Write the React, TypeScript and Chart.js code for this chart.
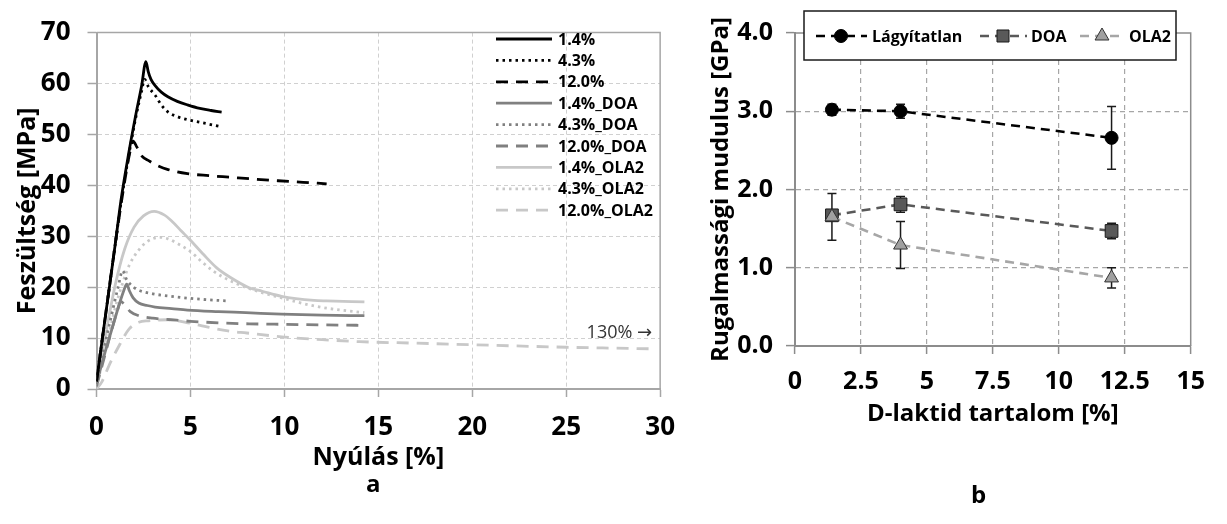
import React, { useEffect, useRef } from 'react';
import { Chart, registerables } from 'chart.js';

Chart.register(...registerables);

const FONT = '"Open Sans", "DejaVu Sans", sans-serif';

// ---------------- Panel a: stress–strain curves ([strain %, stress MPa]) ----------------
const curve_1_4 = [[0, 1.5], [0.5, 15], [1.0, 28.5], [1.3, 37], [1.7, 46], [2.1, 54], [2.4, 59.5], [2.63, 64.3], [2.75, 62.4], [2.9, 60.8], [3.12, 59.6], [3.45, 58.3], [3.8, 57.4], [4.3, 56.5], [4.84, 55.8], [5.5, 55.1], [6.1, 54.7], [6.66, 54.4]];
const curve_4_3 = [[0, 1.5], [0.5, 15], [1.0, 28.5], [1.3, 36.5], [1.7, 45.5], [2.1, 53.5], [2.4, 58.5], [2.56, 60.8], [2.77, 59.3], [3.12, 57.7], [3.45, 55.8], [3.81, 54.4], [4.3, 53.5], [4.84, 52.9], [5.88, 52.1], [6.66, 51.5]];
const curve_12_0 = [[0, 1.5], [0.5, 15], [1.0, 28.5], [1.4, 38.5], [1.75, 46], [1.95, 48.7], [2.15, 47.5], [2.43, 45.7], [2.8, 44.8], [3.12, 44.1], [3.81, 43.1], [4.84, 42.3], [6.0, 41.9], [7.07, 41.6], [8.5, 41.2], [9.67, 40.9], [11.0, 40.6], [12.25, 40.3]];
const curve_1_4_DOA = [[0, 1], [0.4, 6.5], [0.8, 11.5], [1.2, 16.5], [1.45, 19.3], [1.61, 20.6], [1.75, 19.3], [1.95, 17.9], [2.25, 16.9], [2.7, 16.4], [3.12, 16.1], [4.0, 15.8], [4.84, 15.5], [6.5, 15.2], [7.95, 15.0], [9.85, 14.7], [12.0, 14.5], [14.26, 14.4]];
const curve_4_3_DOA = [[0, 1], [0.4, 8], [0.8, 14.5], [1.15, 20], [1.39, 23.2], [1.6, 21.5], [1.9, 20.2], [2.25, 19.4], [3.0, 18.7], [3.98, 18.2], [5.0, 17.8], [6.0, 17.5], [7.0, 17.3]];
const curve_12_0_DOA = [[0, 0.5], [0.4, 6], [0.8, 11.5], [1.1, 15.3], [1.3, 17.2], [1.5, 16.5], [1.8, 15.2], [2.25, 14.4], [3.0, 13.9], [3.98, 13.6], [5.0, 13.3], [6.5, 13.0], [8.12, 12.8], [10.0, 12.7], [12.0, 12.6], [14.26, 12.5]];
const curve_1_4_OLA2 = [[0, 1], [0.5, 11], [1.0, 20.5], [1.5, 27.5], [2.0, 31.8], [2.5, 34], [3.07, 34.9], [3.6, 34.2], [4.0, 33], [4.5, 31.1], [5.0, 29.2], [5.7, 26.4], [6.4, 23.8], [7.09, 22], [8.12, 19.9], [8.82, 19.2], [9.85, 18.2], [11.58, 17.4], [12.25, 17.3], [14.26, 17.1]];
const curve_4_3_OLA2 = [[0, 0.5], [0.5, 8], [1.0, 16], [1.5, 22], [1.74, 24.3], [2.25, 27.3], [2.68, 28.9], [3.38, 29.8], [3.8, 29.5], [4.3, 28.6], [5.0, 27], [5.6, 25], [6.2, 23.2], [7.26, 21], [8.64, 19.1], [9.85, 17.9], [11.58, 16.3], [13.0, 15.5], [14.26, 15.0]];
const curve_12_0_OLA2 = [[0, 0], [0.3, 1.5], [0.7, 4.9], [1.13, 8], [1.74, 11.8], [2.25, 13.1], [2.77, 13.4], [3.8, 13.6], [5.0, 12.9], [6.0, 12.1], [7.0, 11.4], [8.0, 11.0], [10.0, 10.2], [12.0, 9.7], [14.0, 9.3], [17.0, 9.0], [20.0, 8.7], [25.0, 8.2], [29.4, 7.9]];

const leftNames = ['1.4%', '4.3%', '12.0%', '1.4%_DOA', '4.3%_DOA', '12.0%_DOA', '1.4%_OLA2', '4.3%_OLA2', '12.0%_OLA2'];
const leftCurves = [curve_1_4, curve_4_3, curve_12_0, curve_1_4_DOA, curve_4_3_DOA, curve_12_0_DOA, curve_1_4_OLA2, curve_4_3_OLA2, curve_12_0_OLA2];

// styles (kept apart from data)
const BLACK = '#000000';
const MID = '#808080';
const LIGHT = '#c8c8c8';
const SOLID: number[] = [];
const DOT = [2.5, 4];
const DASH = [12, 8];
const leftStyles = [
  { color: BLACK, dash: SOLID },
  { color: BLACK, dash: DOT },
  { color: BLACK, dash: DASH },
  { color: MID, dash: SOLID },
  { color: MID, dash: DOT },
  { color: MID, dash: DASH },
  { color: LIGHT, dash: SOLID },
  { color: LIGHT, dash: DOT },
  { color: LIGHT, dash: DASH },
];

// ---------------- Panel b: modulus vs D-lactide content ----------------
const dContent = [1.4, 4.0, 12.0];
const rightNames = ['Lágyítatlan', 'DOA', 'OLA2'];
const modulusUnplasticized = [3.02, 3.0, 2.66];
const modulusDOA = [1.67, 1.81, 1.47];
const modulusOLA2 = [1.65, 1.29, 0.87];
const errUnplasticized = [0.07, 0.09, 0.4];
const errDOA = [0.05, 0.1, 0.1];
const errOLA2 = [0.3, 0.3, 0.13];
const rightValues = [modulusUnplasticized, modulusDOA, modulusOLA2];
const rightErrors = [errUnplasticized, errDOA, errOLA2];

const rightStyles = [
  { line: '#000000', fill: '#000000', border: '#000000', point: 'circle', radius: 6.5 },
  { line: '#595959', fill: '#595959', border: '#1a1a1a', point: 'rect', radius: 9 },
  { line: '#a6a6a6', fill: '#a0a0a0', border: '#333333', point: 'triangle', radius: 8 },
];

const tickFont = (size: number) => ({ family: FONT, size, weight: 'bold' as const });

function gridColor(edges: number[], color: string) {
  return (c: any) => (c.tick && edges.includes(c.tick.value) ? 'rgba(0,0,0,0)' : color);
}

const frame = (color: string) => ({
  id: 'frame',
  beforeDatasetsDraw(chart: any) {
    const { ctx, chartArea: a } = chart;
    ctx.save();
    ctx.strokeStyle = color;
    ctx.lineWidth = 1.5;
    ctx.setLineDash([]);
    ctx.beginPath();
    ctx.moveTo(a.left, a.top);
    ctx.lineTo(a.right, a.top);
    ctx.lineTo(a.right, a.bottom);
    ctx.stroke();
    ctx.restore();
  },
});

const leftLegend = {
  id: 'leftLegend',
  afterDraw(chart: any) {
    const { ctx, scales } = chart;
    ctx.save();
    leftNames.forEach((name, i) => {
      const st = leftStyles[i];
      const y = 39 + i * 21.4;
      ctx.strokeStyle = st.color;
      ctx.lineWidth = 2.8;
      ctx.setLineDash(st.dash);
      ctx.beginPath();
      ctx.moveTo(496, y);
      ctx.lineTo(552, y);
      ctx.stroke();
      ctx.setLineDash([]);
      ctx.fillStyle = '#000';
      ctx.font = `bold 16px ${FONT}`;
      ctx.textAlign = 'left';
      ctx.textBaseline = 'middle';
      ctx.fillText(name, 558, y + 1);
    });
    ctx.font = `18px ${FONT}`;
    ctx.fillStyle = '#333';
    ctx.textAlign = 'right';
    ctx.fillText('130% →', chart.chartArea.right - 8, scales.y.getPixelForValue(11.0));
    ctx.restore();
  },
};

const errorBars = {
  id: 'errorBars',
  beforeDatasetsDraw(chart: any) {
    const { ctx, scales } = chart;
    const { x, y } = scales;
    ctx.save();
    ctx.strokeStyle = '#1a1a1a';
    ctx.lineWidth = 1.5;
    ctx.setLineDash([]);
    rightErrors.forEach((errs, d) => {
      errs.forEach((e, i) => {
        const px = x.getPixelForValue(dContent[i]);
        const v = rightValues[d][i];
        const y1 = y.getPixelForValue(v + e);
        const y2 = y.getPixelForValue(v - e);
        ctx.beginPath();
        ctx.moveTo(px, y1);
        ctx.lineTo(px, y2);
        ctx.moveTo(px - 4.5, y1);
        ctx.lineTo(px + 4.5, y1);
        ctx.moveTo(px - 4.5, y2);
        ctx.lineTo(px + 4.5, y2);
        ctx.stroke();
      });
    });
    ctx.restore();
  },
};

function drawMarker(ctx: CanvasRenderingContext2D, kind: string, x: number, y: number, r: number) {
  ctx.beginPath();
  if (kind === 'circle') {
    ctx.arc(x, y, r, 0, Math.PI * 2);
  } else if (kind === 'rect') {
    const s = r * Math.SQRT1_2;
    ctx.rect(x - s, y - s, 2 * s, 2 * s);
  } else {
    ctx.moveTo(x, y - r);
    ctx.lineTo(x + r * Math.sin((2 * Math.PI) / 3), y - r * Math.cos((2 * Math.PI) / 3));
    ctx.lineTo(x + r * Math.sin((4 * Math.PI) / 3), y - r * Math.cos((4 * Math.PI) / 3));
    ctx.closePath();
  }
  ctx.fill();
  ctx.stroke();
}

const rightLegend = {
  id: 'rightLegend',
  afterDraw(chart: any) {
    const ctx = chart.ctx as CanvasRenderingContext2D;
    ctx.save();
    ctx.fillStyle = '#ffffff';
    ctx.fillRect(114, 11, 372, 49);
    ctx.strokeStyle = '#1a1a1a';
    ctx.lineWidth = 1.5;
    ctx.setLineDash([]);
    ctx.strokeRect(114, 11, 372, 49);
    const cy = 36;
    const items = [
      { x0: 126, x1: 177, mx: 151, tx: 182 },
      { x0: 290, x1: 337, mx: 313, tx: 341 },
      { x0: 390, x1: 433, mx: 412, tx: 439 },
    ];
    items.forEach((it, i) => {
      const st = rightStyles[i];
      ctx.strokeStyle = st.line;
      ctx.lineWidth = 2.6;
      ctx.setLineDash([9, 6]);
      ctx.beginPath();
      ctx.moveTo(it.x0, cy);
      ctx.lineTo(it.x1, cy);
      ctx.stroke();
      ctx.setLineDash([]);
      ctx.fillStyle = st.fill;
      ctx.strokeStyle = st.border;
      ctx.lineWidth = 1;
      drawMarker(ctx, st.point, it.mx, cy, i === 0 ? 6.5 : i === 1 ? 8.5 : 8);
      ctx.fillStyle = '#000';
      ctx.font = `bold 16px ${FONT}`;
      ctx.textAlign = 'left';
      ctx.textBaseline = 'middle';
      ctx.fillText(rightNames[i], it.tx, cy + 1);
    });
    ctx.restore();
  },
};

function LeftChart() {
  const ref = useRef<HTMLCanvasElement>(null);
  useEffect(() => {
    const chart = new Chart(ref.current!, {
      type: 'line',
      data: {
        datasets: leftCurves.map((c, i) => ({
          label: leftNames[i],
          data: c.map(([x, y]) => ({ x, y })),
          borderColor: leftStyles[i].color,
          borderDash: leftStyles[i].dash,
          borderWidth: 2.8,
          pointRadius: 0,
          fill: false,
          cubicInterpolationMode: 'monotone' as const,
        })),
      },
      options: {
        responsive: false,
        animation: false,
        events: [],
        layout: { padding: { top: 20, right: 14.5, bottom: 0, left: 0 } },
        plugins: { legend: { display: false }, tooltip: { enabled: false } },
        scales: {
          x: {
            type: 'linear',
            min: 0,
            max: 30,
            ticks: { stepSize: 5, font: tickFont(26), color: '#000', padding: 15, maxRotation: 0, autoSkip: false },
            grid: { color: gridColor([0, 30], '#d0d0d0'), lineWidth: 1, tickColor: '#a6a6a6', tickLength: 8, tickWidth: 1.5, tickBorderDash: [] },
            border: { color: '#a6a6a6', width: 2, dash: [4, 3] },
            title: { display: true, text: 'Nyúlás [%]', color: '#000', font: tickFont(25), padding: { top: 0, bottom: 51 } },
            afterFit: (s: any) => { s.height = 135; },
          },
          y: {
            type: 'linear',
            min: 0,
            max: 70,
            ticks: { stepSize: 10, font: tickFont(26), color: '#000', padding: 17 },
            grid: { color: gridColor([0, 70], '#d0d0d0'), lineWidth: 1, tickColor: '#a6a6a6', tickLength: 9, tickWidth: 1.5, tickBorderDash: [] },
            border: { color: '#a6a6a6', width: 2, dash: [4, 3] },
            title: { display: true, text: 'Feszültség [MPa]', color: '#000', font: tickFont(25), padding: { top: 13, bottom: 0 } },
            afterFit: (s: any) => { s.width = 96.5; },
          },
        },
      },
      plugins: [frame('#a6a6a6'), leftLegend],
    } as any);
    return () => chart.destroy();
  }, []);
  return <canvas ref={ref} width={690} height={524} style={{ position: 'absolute', left: 0, top: 0, width: 690, height: 524 }} />;
}

function RightChart() {
  const ref = useRef<HTMLCanvasElement>(null);
  useEffect(() => {
    const order = [2, 1, 0];
    const chart = new Chart(ref.current!, {
      type: 'line',
      data: {
        datasets: rightValues.map((vals, i) => ({
          label: rightNames[i],
          data: vals.map((v, k) => ({ x: dContent[k], y: v })),
          borderColor: rightStyles[i].line,
          borderDash: [9, 6],
          borderWidth: 2.6,
          pointStyle: rightStyles[i].point,
          pointRadius: rightStyles[i].radius,
          pointBackgroundColor: rightStyles[i].fill,
          pointBorderColor: rightStyles[i].border,
          pointBorderWidth: 1,
          fill: false,
          tension: 0,
          order: order[i],
        })),
      },
      options: {
        responsive: false,
        animation: false,
        events: [],
        layout: { padding: { top: 33, right: 36.3, bottom: 0, left: 0 } },
        plugins: { legend: { display: false }, tooltip: { enabled: false } },
        scales: {
          x: {
            type: 'linear',
            min: 0,
            max: 15,
            ticks: { stepSize: 2.5, font: tickFont(25), color: '#000', padding: 13, maxRotation: 0, autoSkip: false, callback: (v: any) => String(v) },
            grid: { color: gridColor([0, 15], '#a6a6a6'), lineWidth: 1.2, tickColor: '#8c8c8c', tickLength: 8, tickWidth: 1.5, tickBorderDash: [] },
            border: { color: '#8c8c8c', width: 2, dash: [5, 4] },
            title: { display: true, text: 'D-laktid tartalom [%]', color: '#000', font: tickFont(24), padding: { top: 0, bottom: 95 } },
            afterFit: (s: any) => { s.height = 178; },
          },
          y: {
            type: 'linear',
            min: 0,
            max: 4,
            ticks: { stepSize: 1, font: tickFont(25), color: '#000', padding: 13, callback: (v: any) => Number(v).toFixed(1) },
            grid: { color: gridColor([0, 4], '#a6a6a6'), lineWidth: 1.2, tickColor: '#8c8c8c', tickLength: 9, tickWidth: 1.5, tickBorderDash: [] },
            border: { color: '#8c8c8c', width: 2, dash: [5, 4] },
            title: { display: true, text: 'Rugalmassági mudulus [GPa]', color: '#000', font: tickFont(24), padding: { top: 17, bottom: 0 } },
            afterFit: (s: any) => { s.width = 105; },
          },
        },
      },
      plugins: [frame('#8c8c8c'), errorBars, rightLegend],
    } as any);
    return () => chart.destroy();
  }, []);
  return <canvas ref={ref} width={537} height={524} style={{ position: 'absolute', left: 690, top: 0, width: 537, height: 524 }} />;
}

const panelLabel: React.CSSProperties = {
  position: 'absolute',
  fontFamily: FONT,
  fontWeight: 'bold',
  fontSize: 24,
  lineHeight: '24px',
  color: '#000',
  margin: 0,
};

export default function App() {
  return (
    <div style={{ position: 'absolute', left: 0, top: 0, width: 1227, height: 524, background: '#fff', overflow: 'hidden' }}>
      <LeftChart />
      <RightChart />
      <div style={{ ...panelLabel, left: 366, top: 471 }}>a</div>
      <div style={{ ...panelLabel, left: 971, top: 482 }}>b</div>
    </div>
  );
}
